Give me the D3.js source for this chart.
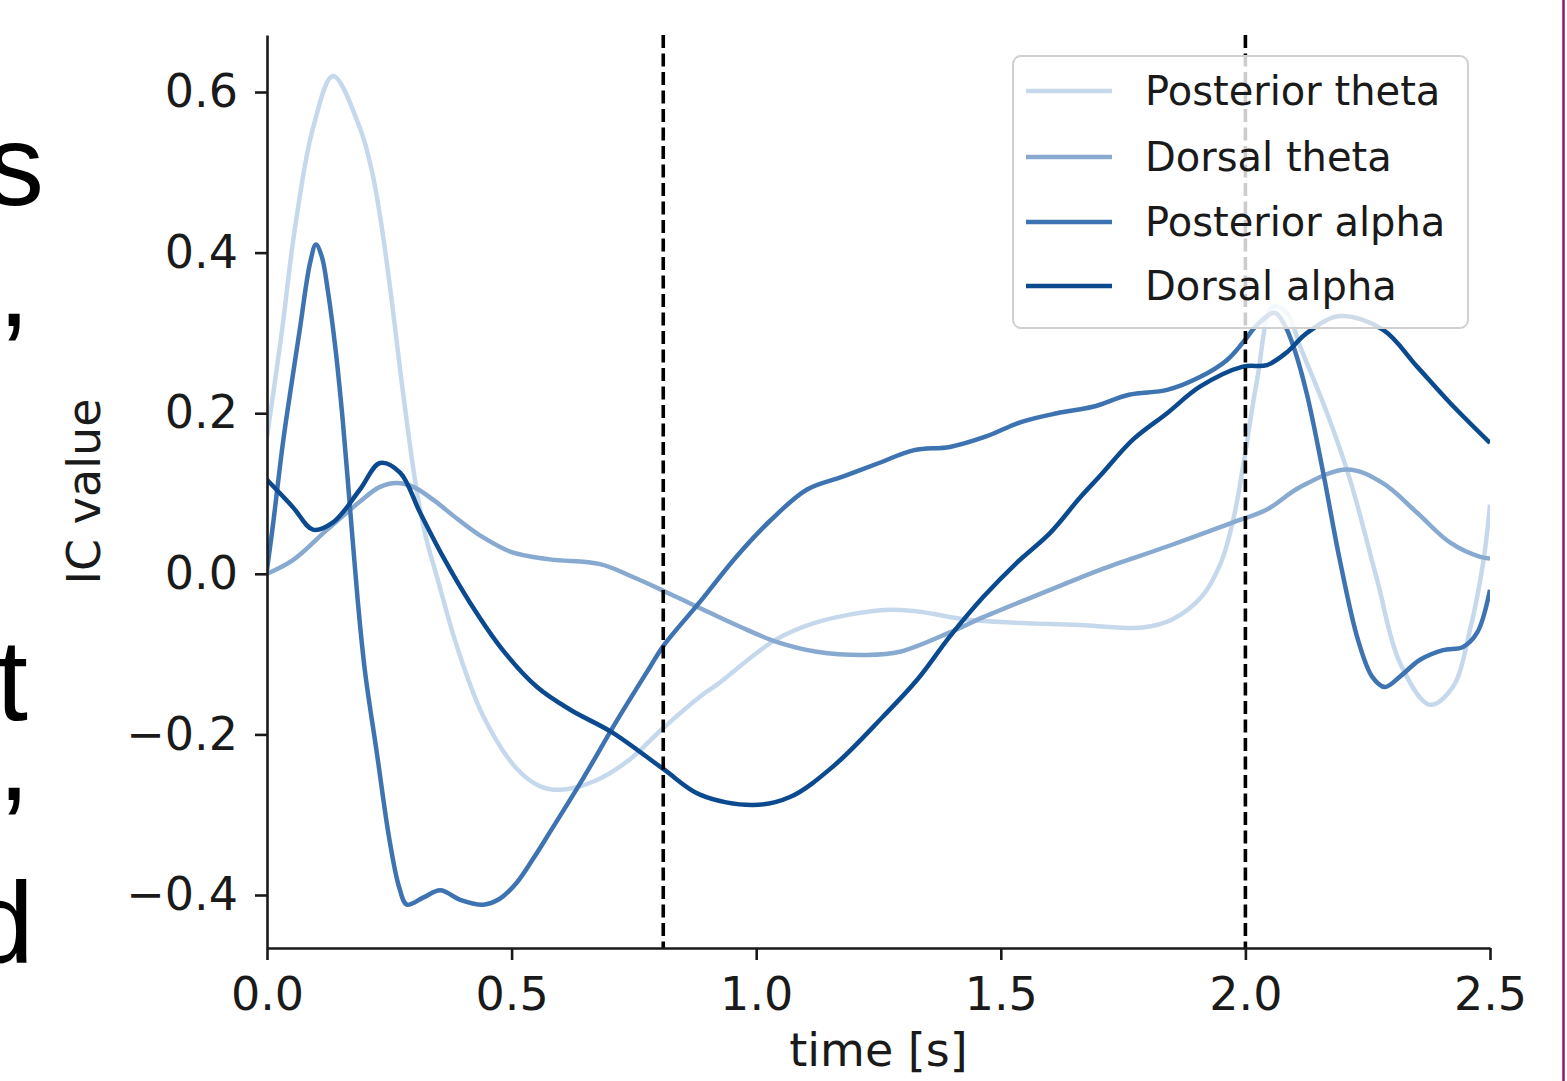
<!DOCTYPE html>
<html>
<head>
<meta charset="utf-8">
<script src="https://cdn.jsdelivr.net/npm/d3@7"></script>
<style>
  html, body { margin: 0; padding: 0; background: #fff; }
  svg { display: block; }
</style>
</head>
<body>
<script>
// ---------------- DATA ----------------
const seriesNames = ["Posterior theta", "Dorsal theta", "Posterior alpha", "Dorsal alpha"];
const seriesColors = ["#c6d9ec", "#88aad0", "#3c73b0", "#0b4a8f"];

const postThetaT = [0, 0.03, 0.057, 0.094, 0.135, 0.19, 0.215, 0.235, 0.255, 0.272, 0.29, 0.307, 0.325, 0.348, 0.388, 0.442, 0.511, 0.56, 0.60, 0.67, 0.74, 0.81, 0.885, 0.92, 1.04, 1.12, 1.26, 1.33, 1.43, 1.53, 1.67, 1.79, 1.85, 1.91, 1.95, 1.975, 1.995, 2.024, 2.056, 2.085, 2.112, 2.167, 2.214, 2.269, 2.316, 2.377, 2.424, 2.459, 2.486, 2.5];
const postThetaV = [0.17, 0.30, 0.43, 0.555, 0.62, 0.555, 0.50, 0.43, 0.34, 0.255, 0.17, 0.10, 0.045, -0.005, -0.09, -0.177, -0.243, -0.265, -0.269, -0.258, -0.232, -0.192, -0.153, -0.138, -0.082, -0.061, -0.045, -0.047, -0.057, -0.061, -0.064, -0.067, -0.057, -0.029, 0.014, 0.067, 0.133, 0.242, 0.333, 0.325, 0.283, 0.2, 0.117, -0.007, -0.111, -0.163, -0.141, -0.07, 0.014, 0.086];

const dorsThetaT = [0, 0.053, 0.123, 0.19, 0.23, 0.265, 0.30, 0.34, 0.39, 0.44, 0.50, 0.578, 0.681, 0.748, 0.81, 0.879, 0.967, 1.043, 1.124, 1.226, 1.294, 1.396, 1.464, 1.601, 1.703, 1.84, 1.975, 2.044, 2.112, 2.208, 2.281, 2.351, 2.418, 2.48, 2.5];
const dorsThetaV = [0, 0.017, 0.055, 0.09, 0.108, 0.113, 0.108, 0.092, 0.068, 0.046, 0.027, 0.018, 0.012, -0.004, -0.021, -0.041, -0.066, -0.085, -0.097, -0.101, -0.097, -0.073, -0.054, -0.02, 0.005, 0.034, 0.064, 0.08, 0.108, 0.13, 0.113, 0.076, 0.039, 0.021, 0.019];

const postAlphaT = [0, 0.012, 0.033, 0.051, 0.067, 0.088, 0.1, 0.112, 0.125, 0.14, 0.155, 0.17, 0.185, 0.2, 0.225, 0.25, 0.27, 0.286, 0.32, 0.354, 0.395, 0.442, 0.475, 0.51, 0.545, 0.578, 0.646, 0.713, 0.783, 0.81, 0.885, 0.959, 1.03, 1.104, 1.177, 1.251, 1.323, 1.396, 1.47, 1.541, 1.615, 1.688, 1.762, 1.84, 1.907, 1.962, 1.995, 2.024, 2.06, 2.08, 2.1, 2.126, 2.159, 2.193, 2.23, 2.259, 2.285, 2.316, 2.357, 2.404, 2.445, 2.474, 2.5];
const postAlphaV = [0.005, 0.06, 0.165, 0.24, 0.304, 0.387, 0.41, 0.395, 0.35, 0.28, 0.19, 0.08, -0.03, -0.12, -0.225, -0.33, -0.39, -0.412, -0.403, -0.394, -0.406, -0.412, -0.405, -0.385, -0.354, -0.322, -0.255, -0.185, -0.116, -0.09, -0.035, 0.021, 0.067, 0.105, 0.121, 0.138, 0.154, 0.158, 0.171, 0.189, 0.2, 0.208, 0.223, 0.229, 0.245, 0.266, 0.288, 0.31, 0.325, 0.31, 0.28, 0.223, 0.126, 0.017, -0.082, -0.128, -0.141, -0.128, -0.107, -0.095, -0.091, -0.073, -0.02];

const dorsAlphaT = [0, 0.053, 0.094, 0.135, 0.19, 0.231, 0.272, 0.313, 0.36, 0.415, 0.482, 0.552, 0.619, 0.707, 0.81, 0.885, 0.993, 1.069, 1.157, 1.259, 1.329, 1.396, 1.464, 1.533, 1.601, 1.662, 1.703, 1.77, 1.84, 1.907, 1.995, 2.044, 2.085, 2.126, 2.193, 2.281, 2.351, 2.418, 2.5];
const dorsAlphaV = [0.117, 0.083, 0.055, 0.064, 0.105, 0.138, 0.126, 0.076, 0.021, -0.036, -0.095, -0.141, -0.169, -0.198, -0.243, -0.275, -0.288, -0.278, -0.24, -0.178, -0.132, -0.078, -0.029, 0.014, 0.051, 0.095, 0.122, 0.167, 0.2, 0.233, 0.258, 0.26, 0.276, 0.3, 0.321, 0.304, 0.258, 0.213, 0.163];

const eventTimes = [0.81, 2.0];
const xTicks = [0, 0.5, 1.0, 1.5, 2.0, 2.5];
const yTicks = [-0.4, -0.2, 0.0, 0.2, 0.4, 0.6];
const xDomain = [0, 2.5];
const yDomain = [-0.466, 0.671];

const seriesT = [postThetaT, dorsThetaT, postAlphaT, dorsAlphaT];
const seriesV = [postThetaV, dorsThetaV, postAlphaV, dorsAlphaV];

// ---------------- LAYOUT ----------------
const W = 1567, H = 1081;
const plot = { left: 267, right: 1490, top: 35, bottom: 948 };
const tickFont = "'DejaVu Sans', sans-serif";

const svg = d3.select("body").append("svg").attr("width", W).attr("height", H);
svg.append("rect").attr("width", W).attr("height", H).attr("fill", "#fff");

// slide text fragments on left (cut off by the crop)
const frag = [["s", 44, 205], [",", 30, 326], ["t", 28, 720], [",", 30, 800], ["d", 34, 962]];
svg.append("g").selectAll("text").data(frag).join("text")
  .attr("x", d => d[1]).attr("y", d => d[2])
  .attr("text-anchor", "end")
  .attr("font-family", "'Liberation Sans', Arial, sans-serif")
  .attr("font-size", 115).attr("fill", "#000")
  .text(d => d[0]);

// purple border line at right
svg.append("line").attr("x1", 1563.5).attr("x2", 1563.5).attr("y1", 0).attr("y2", H)
  .attr("stroke", "#8c1c6c").attr("stroke-width", 2.5);

const x = d3.scaleLinear().domain(xDomain).range([plot.left, plot.right]);
const y = d3.scaleLinear().domain(yDomain).range([plot.bottom, plot.top]);

svg.append("clipPath").attr("id", "clip").append("rect")
  .attr("x", plot.left).attr("y", plot.top)
  .attr("width", plot.right - plot.left).attr("height", plot.bottom - plot.top);

// lines
const line = d3.line().x(d => x(d[0])).y(d => y(d[1])).curve(d3.curveCatmullRom.alpha(0.5));
const gLines = svg.append("g").attr("clip-path", "url(#clip)");
seriesNames.forEach((name, i) => {
  const pts = seriesT[i].map((t, k) => [t, seriesV[i][k]]);
  gLines.append("path").datum(pts)
    .attr("d", line)
    .attr("fill", "none")
    .attr("stroke", seriesColors[i])
    .attr("stroke-width", 4.5)
    .attr("stroke-linejoin", "round")
    .attr("stroke-linecap", "butt");
});

// event dashed lines
svg.append("g").selectAll("line").data(eventTimes).join("line")
  .attr("x1", d => x(d)).attr("x2", d => x(d))
  .attr("y1", plot.top).attr("y2", plot.bottom)
  .attr("stroke", "#000").attr("stroke-width", 3.6)
  .attr("stroke-dasharray", "13,5.5");

// axes
const xAxis = d3.axisBottom(x).tickValues(xTicks).tickFormat(d3.format(".1f"))
  .tickSize(12).tickSizeOuter(0).tickPadding(17);
const yAxis = d3.axisLeft(y).tickValues(yTicks).tickFormat(d3.format(".1f"))
  .tickSize(12).tickSizeOuter(0).tickPadding(17);

const gx = svg.append("g").attr("transform", `translate(0,${plot.bottom})`).call(xAxis);
const gy = svg.append("g").attr("transform", `translate(${plot.left},0)`).call(yAxis);
[gx, gy].forEach(g => {
  g.select(".domain").attr("stroke", "#1a1a1a").attr("stroke-width", 2.6);
  g.selectAll(".tick line").attr("stroke", "#1a1a1a").attr("stroke-width", 2.6);
  g.selectAll(".tick text").attr("fill", "#1a1a1a")
    .attr("font-family", tickFont).attr("font-size", 46);
});

// axis labels
svg.append("text").attr("x", (plot.left + plot.right) / 2).attr("y", 1066)
  .attr("text-anchor", "middle").attr("font-family", tickFont).attr("font-size", 46)
  .attr("fill", "#1a1a1a").text("time [s]");
svg.append("text").attr("transform", `translate(100,${(plot.top + plot.bottom) / 2}) rotate(-90)`)
  .attr("text-anchor", "middle").attr("font-family", tickFont).attr("font-size", 46)
  .attr("fill", "#1a1a1a").text("IC value");

// legend
const leg = svg.append("g");
leg.append("rect").attr("x", 1013).attr("y", 56).attr("width", 455).attr("height", 272)
  .attr("rx", 8).attr("ry", 8)
  .attr("fill", "#fff").attr("fill-opacity", 0.8)
  .attr("stroke", "#d0d0d0").attr("stroke-width", 2);
const rowY = [91, 157, 222, 286];
seriesNames.forEach((name, i) => {
  leg.append("line").attr("x1", 1026).attr("x2", 1112)
    .attr("y1", rowY[i]).attr("y2", rowY[i])
    .attr("stroke", seriesColors[i]).attr("stroke-width", 4.5);
  leg.append("text").attr("x", 1145).attr("y", rowY[i]).attr("dy", "0.36em")
    .attr("font-family", tickFont).attr("font-size", 40).attr("fill", "#1a1a1a")
    .text(name);
});
</script>
</body>
</html>
